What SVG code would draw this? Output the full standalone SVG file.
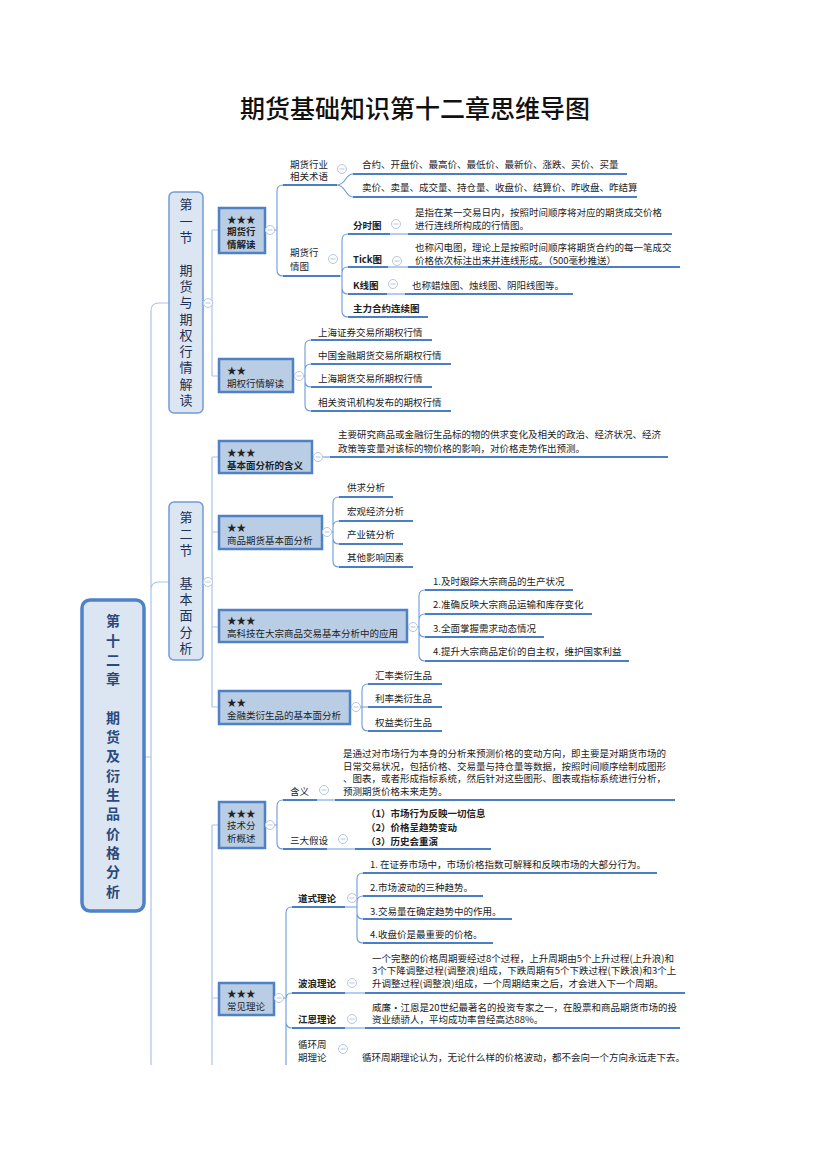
<svg xmlns="http://www.w3.org/2000/svg" width="830" height="1175" viewBox="0 0 830 1175">
<defs>
<clipPath id="page"><rect x="0" y="0" width="830" height="1065"/></clipPath>
<style>
text{font-family:"Noto Sans CJK SC","Microsoft YaHei",sans-serif;fill:#222;dominant-baseline:central}
.t{font-size:9.5px}
.b{font-weight:bold}
.title{font-size:25px;font-weight:500;fill:#111;text-anchor:middle}
.sec{font-size:13px;fill:#1f3152;writing-mode:vertical-rl;letter-spacing:3.3px}
.root{font-size:14px;font-weight:bold;fill:#2a4a7c;writing-mode:vertical-rl;letter-spacing:5.3px}
.ul{stroke:#4a7fc6;stroke-width:2;fill:none}
.br{stroke:#6b9bd9;stroke-width:1.1;fill:none}
.tr{stroke:#a9c5ea;stroke-width:1.2;fill:none}
.cc{fill:#fff;stroke:#b7c6dc;stroke-width:1}
.cm{stroke:#b7c6dc;stroke-width:1}
.n3{fill:#b9cde5;stroke:#4f81c7;stroke-width:2.5}
.n2{fill:#dce6f2;stroke:#6f9cd8;stroke-width:1.5}
.n1{fill:#dce6f2;stroke:#4f81c7;stroke-width:3.5}
</style>
</defs>
<rect width="830" height="1175" fill="#fff"/>
<text class="title" x="415" y="107">期货基础知识第十二章思维导图</text>
<g clip-path="url(#page)">
<g id="connectors">
<path class="tr" d="M145,757 H151 M151,1066 V311 Q151,303 159,303 H169 M151,590 Q151,582 159,582 H169"/>
<path class="tr" d="M203,303 H212 M212,230 V376 M212,230 H219 M212,376 H219"/>
<path class="tr" d="M203,582 H212 M212,457 V707 M212,457 H219 M212,532 H219 M212,627 H219 M212,707 H219"/>
<path class="tr" d="M212,825 V1066 M212,825 H219 M212,998 H219"/>
<path class="br" d="M265,230 H277 V191 Q277,185 283,185 M277,230 V270 Q277,276 283,276"/>
<path class="ul" d="M283,185 H337 M283,276 H340"/>
<path class="br" d="M337,185 C346,185 345,174 353,174 M337,185 C346,185 345,197 353,197"/>
<path class="ul" d="M353,174 H627 M353,197 H637"/>
<path class="br" d="M340,276 H342 V240 Q342,234 348,234 M342,276 V273 Q342,267 348,267 M342,276 V288 Q342,294 348,294 M342,276 V311 Q342,317 348,317"/>
<path class="ul" d="M348,234 H390 M348,267 H388 M348,294 H387 M348,317 H428"/>
<path class="br" d="M390,234 H408 M388,267 H408 M387,294 H405"/>
<path class="ul" d="M408,234 H672 M408,267 H680 M405,294 H573"/>
<path class="br" d="M293,376 H305 V346 Q305,340 311,340 M305,376 V370 Q305,364 311,364 M305,376 V381 Q305,387 311,387 M305,376 V405 Q305,411 311,411"/>
<path class="ul" d="M311,340 H432 M311,364 H451 M311,387 H432 M311,411 H451"/>
<path class="br" d="M312,457 H330"/>
<path class="ul" d="M330,457 H668"/>
<path class="br" d="M322,532 H333 V503 Q333,497 339,497 M333,532 V527 Q333,521 339,521 M333,532 V538 Q333,544 339,544 M333,532 V561 Q333,567 339,567"/>
<path class="ul" d="M339,497 H393 M339,521 H413 M339,544 H403 M339,567 H413"/>
<path class="br" d="M407,627 H419 V596 Q419,590 425,590 M419,627 V620 Q419,614 425,614 M419,627 V631 Q419,637 425,637 M419,627 V655 Q419,661 425,661"/>
<path class="ul" d="M425,590 H573 M425,614 H592 M425,637 H544 M425,661 H629"/>
<path class="br" d="M350,707 H368 M362,707 V690 Q362,684 368,684 M362,707 V725 Q362,731 368,731"/>
<path class="ul" d="M368,684 H442 M368,707 H442 M368,731 H442"/>
<path class="br" d="M265,825 H277 V806 Q277,800 283,800 M277,825 V843 Q277,849 283,849"/>
<path class="ul" d="M283,800 H317 M283,849 H327"/>
<path class="br" d="M317,800 H335 M327,849 H355"/>
<path class="ul" d="M335,800 H675 M355,849 H491"/>
<path class="br" d="M274,998 H286 V913 Q286,907 292,907 M286,998 V999 Q286,993 292,993 M286,998 V1022 Q286,1028 292,1028 M286,998 V1066"/>
<path class="ul" d="M292,907 H345 M292,993 H345 M292,1028 H345"/>
<path class="br" d="M345,907 H357 V879 Q357,873 363,873 M357,907 V902 Q357,896 363,896 M357,907 V913 Q357,919 363,919 M357,907 V937 Q357,943 363,943"/>
<path class="ul" d="M363,873 H657 M363,896 H483 M363,919 H512 M363,943 H493"/>
<path class="br" d="M345,993 H365 M345,1028 H365"/>
<path class="ul" d="M365,993 H685 M365,1028 H680"/>
</g>

<g id="root">
<rect class="n1" x="82" y="600" width="62" height="311" rx="8"/>
<text class="root" x="113" y="614">第十二章　期货及衍生品价格分析</text>
</g>

<g id="sec1">
<rect class="n2" x="169" y="192" width="34" height="221" rx="5"/>
<text class="sec" x="186" y="198">第一节　期货与期权行情解读</text>
</g>

<g id="sec2">
<rect class="n2" x="169" y="502" width="34" height="158" rx="5"/>
<text class="sec" x="186" y="511">第二节　基本面分析</text>
</g>

<g id="n-qhhq">
<rect class="n3" x="219" y="208" width="46" height="45"/>
<text class="t" x="227" y="219">★★★</text>
<text class="t b" x="227" y="231">期货行</text>
<text class="t b" x="227" y="244">情解读</text>
</g>
<g id="n-shuyu">
<text class="t" x="290" y="164">期货行业</text>
<text class="t" x="290" y="176">相关术语</text>
<text class="t" x="362" y="164">合约、开盘价、最高价、最低价、最新价、涨跌、买价、买量</text>
<text class="t" x="362" y="187">卖价、卖量、成交量、持仓量、收盘价、结算价、昨收盘、昨结算</text>
</g>
<g id="n-hqt">
<text class="t" x="290" y="252">期货行</text>
<text class="t" x="290" y="266">情图</text>
<text class="t b" x="353" y="225">分时图</text>
<text class="t" x="415" y="212">是指在某一交易日内，按照时间顺序将对应的期货成交价格</text>
<text class="t" x="415" y="225">进行连线所构成的行情图。</text>
<text class="t b" x="353" y="259">Tick图</text>
<text class="t" x="415" y="247">也称闪电图，理论上是按照时间顺序将期货合约的每一笔成交</text>
<text class="t" x="415" y="260">价格依次标注出来并连线形成。（500毫秒推送）</text>
<text class="t b" x="353" y="285">K线图</text>
<text class="t" x="412" y="285">也称蜡烛图、烛线图、阴阳线图等。</text>
<text class="t b" x="353" y="308">主力合约连续图</text>
</g>
<g id="n-qqhq">
<rect class="n3" x="219" y="359" width="74" height="33"/>
<text class="t" x="227" y="370">★★</text>
<text class="t" x="227" y="383">期权行情解读</text>
<text class="t" x="318" y="332">上海证券交易所期权行情</text>
<text class="t" x="318" y="355">中国金融期货交易所期权行情</text>
<text class="t" x="318" y="378">上海期货交易所期权行情</text>
<text class="t" x="318" y="402">相关资讯机构发布的期权行情</text>
</g>
<g id="n-hanyi">
<rect class="n3" x="219" y="441" width="93" height="32"/>
<text class="t" x="227" y="452">★★★</text>
<text class="t b" x="227" y="465">基本面分析的含义</text>
<text class="t" x="338" y="434">主要研究商品或金融衍生品标的物的供求变化及相关的政治、经济状况、经济</text>
<text class="t" x="338" y="448">政策等变量对该标的物价格的影响，对价格走势作出预测。</text>
</g>
<g id="n-spqh">
<rect class="n3" x="219" y="516" width="103" height="33"/>
<text class="t" x="227" y="527">★★</text>
<text class="t" x="227" y="540">商品期货基本面分析</text>
<text class="t" x="347" y="487">供求分析</text>
<text class="t" x="347" y="511">宏观经济分析</text>
<text class="t" x="347" y="534">产业链分析</text>
<text class="t" x="347" y="557">其他影响因素</text>
</g>
<g id="n-gkj">
<rect class="n3" x="219" y="610" width="188" height="32"/>
<text class="t" x="227" y="620">★★★</text>
<text class="t" x="227" y="633">高科技在大宗商品交易基本分析中的应用</text>
<text class="t" x="433" y="581">1.及时跟踪大宗商品的生产状况</text>
<text class="t" x="433" y="604">2.准确反映大宗商品运输和库存变化</text>
<text class="t" x="433" y="628">3.全面掌握需求动态情况</text>
<text class="t" x="433" y="651">4.提升大宗商品定价的自主权，维护国家利益</text>
</g>
<g id="n-jrl">
<rect class="n3" x="219" y="691" width="131" height="33"/>
<text class="t" x="227" y="702">★★</text>
<text class="t" x="227" y="715">金融类衍生品的基本面分析</text>
<text class="t" x="375" y="675">汇率类衍生品</text>
<text class="t" x="375" y="698">利率类衍生品</text>
<text class="t" x="375" y="722">权益类衍生品</text>
</g>
<g id="n-jsfx">
<rect class="n3" x="219" y="802" width="46" height="46"/>
<text class="t" x="227" y="813">★★★</text>
<text class="t" x="227" y="825">技术分</text>
<text class="t" x="227" y="838">析概述</text>
<text class="t" x="290" y="791">含义</text>
<text class="t" x="343" y="753">是通过对市场行为本身的分析来预测价格的变动方向，即主要是对期货市场的</text>
<text class="t" x="343" y="766">日常交易状况，包括价格、交易量与持仓量等数据，按照时间顺序绘制成图形</text>
<text class="t" x="343" y="778">、图表，或者形成指标系统，然后针对这些图形、图表或指标系统进行分析，</text>
<text class="t" x="343" y="791">预测期货价格未来走势。</text>
<text class="t" x="290" y="840">三大假设</text>
<text class="t b" x="366" y="813">（1）市场行为反映一切信息</text>
<text class="t b" x="366" y="827">（2）价格呈趋势变动</text>
<text class="t b" x="366" y="841">（3）历史会重演</text>
</g>
<g id="n-cjll">
<rect class="n3" x="219" y="983" width="55" height="32"/>
<text class="t" x="227" y="993">★★★</text>
<text class="t" x="227" y="1006">常见理论</text>
<text class="t b" x="298" y="898">道式理论</text>
<text class="t" x="370" y="864">1. 在证券市场中，市场价格指数可解释和反映市场的大部分行为。</text>
<text class="t" x="370" y="887">2.市场波动的三种趋势。</text>
<text class="t" x="370" y="911">3.交易量在确定趋势中的作用。</text>
<text class="t" x="370" y="934">4.收盘价是最重要的价格。</text>
<text class="t b" x="298" y="983">波浪理论</text>
<text class="t" x="372" y="958">一个完整的价格周期要经过8个过程，上升周期由5个上升过程(上升浪)和</text>
<text class="t" x="372" y="970">3个下降调整过程(调整浪)组成，下跌周期有5个下跌过程(下跌浪)和3个上</text>
<text class="t" x="372" y="983">升调整过程(调整浪)组成，一个周期结束之后，才会进入下一个周期。</text>
<text class="t b" x="298" y="1019">江恩理论</text>
<text class="t" x="372" y="1007">威廉•江恩是20世纪最著名的投资专家之一，在股票和商品期货市场的投</text>
<text class="t" x="372" y="1019">资业绩骄人，平均成功率曾经高达88%。</text>
<text class="t" x="298" y="1044">循环周</text>
<text class="t" x="298" y="1057">期理论</text>
<text class="t" x="362" y="1057">循环周期理论认为，无论什么样的价格波动，都不会向一个方向永远走下去。</text>
</g>

<g id="toggles">
<g transform="translate(208,303)"><circle class="cc" r="4.5"/><path class="cm" d="M-2.5,0 H2.5"/></g>
<g transform="translate(270,230)"><circle class="cc" r="4.5"/><path class="cm" d="M-2.5,0 H2.5"/></g>
<g transform="translate(342,169)"><circle class="cc" r="4.5"/><path class="cm" d="M-2.5,0 H2.5"/></g>
<g transform="translate(333,259)"><circle class="cc" r="4.5"/><path class="cm" d="M-2.5,0 H2.5"/></g>
<g transform="translate(396,224)"><circle class="cc" r="4.5"/><path class="cm" d="M-2.5,0 H2.5"/></g>
<g transform="translate(397,261)"><circle class="cc" r="4.5"/><path class="cm" d="M-2.5,0 H2.5"/></g>
<g transform="translate(393,284)"><circle class="cc" r="4.5"/><path class="cm" d="M-2.5,0 H2.5"/></g>
<g transform="translate(299,376)"><circle class="cc" r="4.5"/><path class="cm" d="M-2.5,0 H2.5"/></g>
<g transform="translate(208,582)"><circle class="cc" r="4.5"/><path class="cm" d="M-2.5,0 H2.5"/></g>
<g transform="translate(318,457)"><circle class="cc" r="4.5"/><path class="cm" d="M-2.5,0 H2.5"/></g>
<g transform="translate(327,532)"><circle class="cc" r="4.5"/><path class="cm" d="M-2.5,0 H2.5"/></g>
<g transform="translate(413,627)"><circle class="cc" r="4.5"/><path class="cm" d="M-2.5,0 H2.5"/></g>
<g transform="translate(356,707)"><circle class="cc" r="4.5"/><path class="cm" d="M-2.5,0 H2.5"/></g>
<g transform="translate(270,825)"><circle class="cc" r="4.5"/><path class="cm" d="M-2.5,0 H2.5"/></g>
<g transform="translate(324,790)"><circle class="cc" r="4.5"/><path class="cm" d="M-2.5,0 H2.5"/></g>
<g transform="translate(343,839)"><circle class="cc" r="4.5"/><path class="cm" d="M-2.5,0 H2.5"/></g>
<g transform="translate(279,998)"><circle class="cc" r="4.5"/><path class="cm" d="M-2.5,0 H2.5"/></g>
<g transform="translate(352,898)"><circle class="cc" r="4.5"/><path class="cm" d="M-2.5,0 H2.5"/></g>
<g transform="translate(352,983)"><circle class="cc" r="4.5"/><path class="cm" d="M-2.5,0 H2.5"/></g>
<g transform="translate(352,1019)"><circle class="cc" r="4.5"/><path class="cm" d="M-2.5,0 H2.5"/></g>
<g transform="translate(343,1049)"><circle class="cc" r="4.5"/><path class="cm" d="M-2.5,0 H2.5"/></g>
</g>
</g>
</svg>
